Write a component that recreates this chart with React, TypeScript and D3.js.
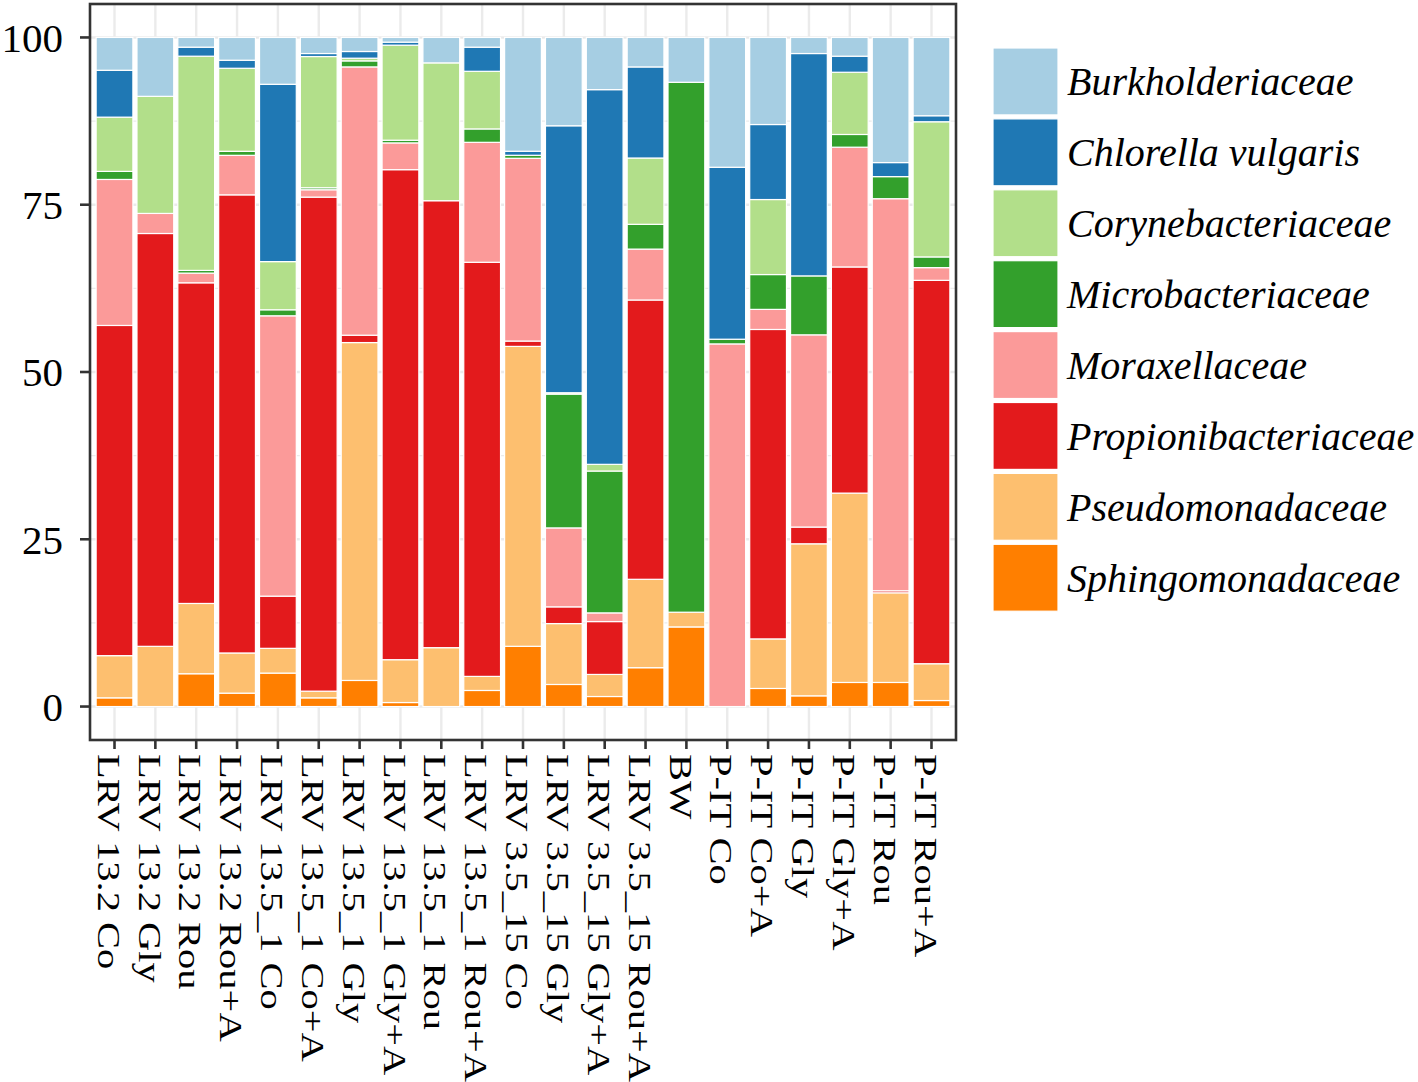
import React from "react";
import * as d3 from "d3";

const categories = [
  "LRV 13.2 Co", "LRV 13.2 Gly", "LRV 13.2 Rou", "LRV 13.2 Rou+A",
  "LRV 13.5_1 Co", "LRV 13.5_1 Co+A", "LRV 13.5_1 Gly", "LRV 13.5_1 Gly+A",
  "LRV 13.5_1 Rou", "LRV 13.5_1 Rou+A", "LRV 3.5_15 Co", "LRV 3.5_15 Gly",
  "LRV 3.5_15 Gly+A", "LRV 3.5_15 Rou+A", "BW", "P-IT Co", "P-IT Co+A",
  "P-IT Gly", "P-IT Gly+A", "P-IT Rou", "P-IT Rou+A",
];

// legend order (top of stack first)
const seriesNames = [
  "Burkholderiaceae", "Chlorella vulgaris", "Corynebacteriaceae", "Microbacteriaceae",
  "Moraxellaceae", "Propionibacteriaceae", "Pseudomonadaceae", "Sphingomonadaceae",
];
const seriesColors = [
  "#A6CEE3", "#1F78B4", "#B2DF8A", "#33A02C", "#FB9A99", "#E31A1C", "#FDBF6F", "#FF7F00",
];

const burkholderiaceae = [4.9, 8.8, 1.45, 3.4, 7.0, 2.4, 2.1, 0.7, 3.8, 1.45, 17.0, 13.2, 7.8, 4.4, 6.7, 19.4, 13.0, 2.4, 2.8, 18.7, 11.7];
const chlorella = [7.0, 0, 1.35, 1.2, 26.5, 0.45, 1.0, 0.45, 0, 3.6, 0.6, 39.9, 56.0, 13.6, 0, 25.7, 11.2, 33.2, 2.4, 2.1, 0.9];
const corynebacteriaceae = [8.1, 17.5, 32.0, 12.4, 7.2, 19.6, 0.4, 14.2, 20.6, 8.6, 0, 0.2, 1.0, 9.9, 0, 0, 11.2, 0, 9.3, 0, 20.2];
const microbacteriaceae = [1.2, 0, 0.4, 0.6, 0.9, 0.3, 0.9, 0.4, 0, 2.0, 0.45, 20.0, 21.2, 3.7, 79.2, 0.7, 5.2, 8.8, 1.9, 3.3, 1.6];
const moraxellaceae = [21.8, 3.0, 1.45, 5.9, 41.9, 1.1, 40.1, 4.0, 0, 17.9, 27.3, 11.8, 1.3, 7.6, 0, 54.2, 3.0, 28.7, 17.9, 58.6, 1.9];
const propionibacteriaceae = [49.3, 61.7, 47.9, 68.4, 7.8, 73.8, 1.1, 73.2, 66.8, 61.8, 0.8, 2.5, 7.9, 41.7, 0, 0, 46.2, 2.5, 33.8, 0.3, 57.3];
const pseudomonadaceae = [6.3, 9.0, 10.5, 6.0, 3.7, 1.0, 50.5, 6.4, 8.8, 2.1, 44.8, 9.1, 3.3, 13.2, 2.2, 0, 7.4, 22.7, 28.3, 13.4, 5.5];
const sphingomonadaceae = [1.3, 0, 4.9, 2.0, 5.0, 1.3, 3.9, 0.6, 0, 2.4, 9.0, 3.3, 1.5, 5.8, 11.9, 0, 2.7, 1.6, 3.6, 3.6, 0.9];

const seriesValues = [
  burkholderiaceae, chlorella, corynebacteriaceae, microbacteriaceae,
  moraxellaceae, propionibacteriaceae, pseudomonadaceae, sphingomonadaceae,
];

const yTickValues = [0, 25, 50, 75, 100];
const yMinorValues = [12.5, 37.5, 62.5, 87.5];

const FONT = "'Liberation Serif', 'Times New Roman', serif";

export default function App() {
  const W = 1418, H = 1082;
  const panel = { left: 90, right: 956, top: 4, bottom: 740 };

  const x = d3.scalePoint<string>().domain(categories).range([panel.left, panel.right]).padding(0.6);
  const step = x.step();
  const barW = step * 0.9;
  const y = d3.scaleLinear().domain([-5, 105]).range([panel.bottom, panel.top]);

  const rows = categories.map((c, i) => {
    const r: any = { cat: c };
    seriesNames.forEach((s, k) => (r[s] = seriesValues[k][i]));
    return r;
  });
  const stackKeys = [...seriesNames].reverse(); // bottom first
  const stacked = d3.stack<any>().keys(stackKeys).offset(d3.stackOffsetExpand)(rows);
  const colorOf = d3.scaleOrdinal<string, string>().domain(seriesNames).range(seriesColors);

  const legendX = 993, legendY = 48, keyW = 65, keyPitch = 70.9;

  return (
    <div style={{ position: "absolute", left: 0, top: 0 }}>
      <svg width={W} height={H} style={{ display: "block", background: "#fff" }}>
        {/* grid */}
        <g>
          {yMinorValues.map((v) => (
            <line key={"mn" + v} x1={panel.left} x2={panel.right} y1={y(v)} y2={y(v)} stroke="#EBEBEB" strokeWidth={1.2} />
          ))}
          {yTickValues.map((v) => (
            <line key={"mj" + v} x1={panel.left} x2={panel.right} y1={y(v)} y2={y(v)} stroke="#EBEBEB" strokeWidth={2.4} />
          ))}
          {categories.map((c) => (
            <line key={"vx" + c} x1={x(c)} x2={x(c)} y1={panel.top} y2={panel.bottom} stroke="#EBEBEB" strokeWidth={2.4} />
          ))}
        </g>
        {/* bars */}
        <g>
          {stacked.map((layer) => (
            <g key={layer.key} fill={colorOf(layer.key)}>
              {layer.map((d, i) => {
                const y0 = y(d[0] * 100), y1 = y(d[1] * 100);
                const h = y0 - y1;
                if (h <= 0) return null;
                return (
                  <rect key={i} x={(x(categories[i]) as number) - barW / 2} y={y1} width={barW} height={h}
                    stroke="#fff" strokeWidth={1.2} />
                );
              })}
            </g>
          ))}
        </g>
        {/* panel border */}
        <rect x={panel.left} y={panel.top} width={panel.right - panel.left} height={panel.bottom - panel.top}
          fill="none" stroke="#333" strokeWidth={2.6} />
        {/* y axis */}
        <g>
          {yTickValues.map((v) => (
            <g key={"yt" + v}>
              <line x1={80} x2={panel.left} y1={y(v)} y2={y(v)} stroke="#333" strokeWidth={2.6} />
              <text x={63} y={y(v)} dy="0.35em" textAnchor="end" fontFamily={FONT} fontSize={41} fill="#000">{v}</text>
            </g>
          ))}
        </g>
        {/* x axis */}
        <g>
          {categories.map((c) => (
            <g key={"xt" + c}>
              <line x1={x(c)} x2={x(c)} y1={panel.bottom} y2={panel.bottom + 9} stroke="#333" strokeWidth={2.6} />
              <g transform={`translate(${x(c)},${754}) rotate(90) scale(1,0.8)`}>
                <text x={0} y={21} textAnchor="start" fontFamily={FONT} fontSize={40.5} fill="#000">{c}</text>
              </g>
            </g>
          ))}
        </g>
        {/* legend */}
        <g>
          {seriesNames.map((s, i) => (
            <g key={"lg" + s}>
              <rect x={legendX} y={legendY + i * keyPitch} width={keyW} height={keyPitch - 4} fill={colorOf(s)}
                stroke="#fff" strokeWidth={1.2} />
              <text x={1067} y={legendY + i * keyPitch + (keyPitch - 4) / 2} dy="0.35em" fontFamily={FONT}
                fontStyle="italic" fontSize={40} fill="#000">{s}</text>
            </g>
          ))}
        </g>
      </svg>
    </div>
  );
}
